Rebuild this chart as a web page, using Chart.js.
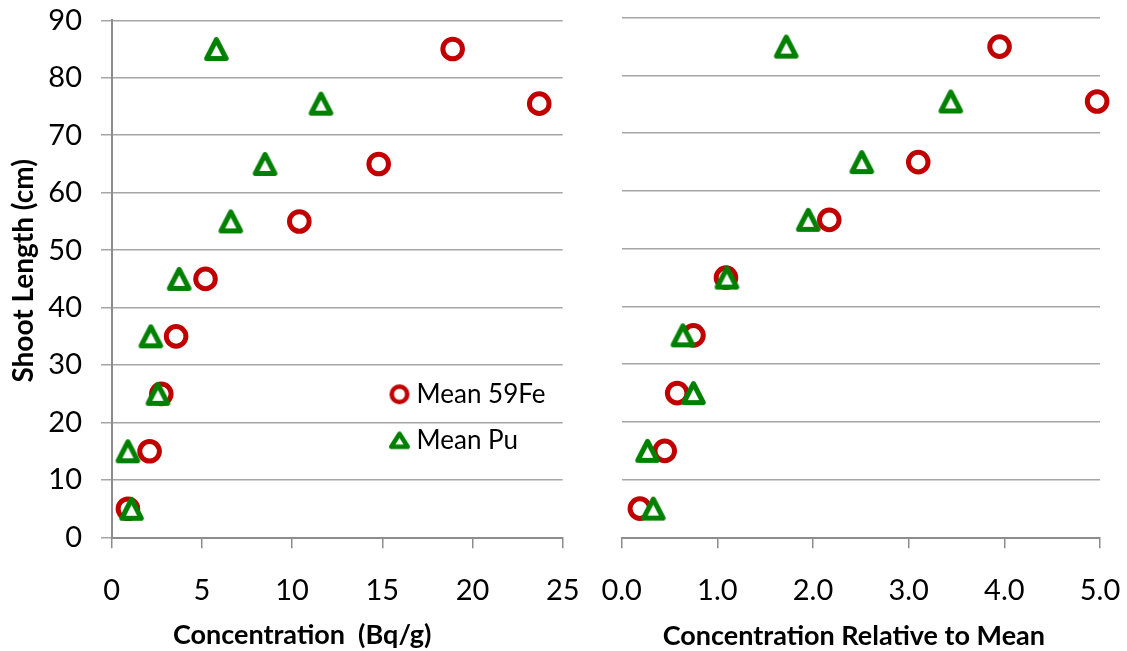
<!DOCTYPE html>
<html>
<head>
<meta charset="utf-8">
<script src="https://cdn.jsdelivr.net/npm/chart.js@4.4.1/dist/chart.umd.min.js"></script>
<style>
  html, body { margin: 0; padding: 0; background: #ffffff; }
  #wrap { position: relative; width: 1127px; height: 651px; overflow: hidden; background: #fff; }
  #left { position: absolute; left: 0; top: 0; }
  #right { position: absolute; left: 592px; top: 0; }
</style>
</head>
<body>
<div id="wrap">
  <canvas id="left" width="592" height="651"></canvas>
  <canvas id="right" width="535" height="651"></canvas>
</div>
<script>
// ---------- data ----------
const shootLength = [5, 15, 25, 35, 45, 55, 65, 75.5, 85];
const fe59Conc = [0.9, 2.1, 2.75, 3.57, 5.2, 10.4, 14.8, 23.7, 18.9];
const puConc   = [1.1, 0.9, 2.56, 2.17, 3.74, 6.6, 8.5, 11.6, 5.8];
const fe59Rel  = [0.19, 0.45, 0.58, 0.75, 1.09, 2.17, 3.1, 4.97, 3.95];
const puRel    = [0.33, 0.27, 0.75, 0.64, 1.1, 1.95, 2.51, 3.44, 1.72];

const yTicks = [0, 10, 20, 30, 40, 50, 60, 70, 80, 90];
const yTickLabels = ['0', '10', '20', '30', '40', '50', '60', '70', '80', '90'];
const leftXTicks = [0, 5, 10, 15, 20, 25];
const leftXTickLabels = ['0', '5', '10', '15', '20', '25'];
const rightXTicks = [0, 1, 2, 3, 4, 5];
const rightXTickLabels = ['0.0', '1.0', '2.0', '3.0', '4.0', '5.0'];

const seriesNames = ['Mean 59Fe', 'Mean Pu'];
const yTitle = 'Shoot Length (cm)';
const leftXTitle = 'Concentration  (Bq/g)';
const rightXTitle = 'Concentration Relative to Mean';

// ---------- styles ----------
const RED = '#C00000';
const GREEN = '#008000';
const GRID = '#a6a6a6';
const AXIS = '#8c8c8c';
const FONT = 'Lato, "Open Sans", "DejaVu Sans", sans-serif';

function makeTriangle(w, h, lw, color) {
  const pad = 2;
  const c = document.createElement('canvas');
  c.width = Math.round(w + pad * 2);
  c.height = Math.round(h + pad * 2);
  const g = c.getContext('2d');
  const cx = c.width / 2, cy = c.height / 2;
  const pw = (w - lw) / 2, ph = (h - lw) / 2;
  g.beginPath();
  g.moveTo(cx, cy - ph);
  g.lineTo(cx + pw, cy + ph);
  g.lineTo(cx - pw, cy + ph);
  g.closePath();
  g.lineJoin = 'round';
  g.lineWidth = lw;
  g.fillStyle = '#ffffff';
  g.strokeStyle = color;
  g.fill();
  g.stroke();
  return c;
}
function makeCircle(d, lw, color) {
  const pad = 2;
  const c = document.createElement('canvas');
  c.width = Math.round(d + pad * 2);
  c.height = Math.round(d + pad * 2);
  const g = c.getContext('2d');
  g.beginPath();
  g.arc(c.width / 2, c.height / 2, (d - lw) / 2, 0, Math.PI * 2);
  g.lineWidth = lw;
  g.fillStyle = '#ffffff';
  g.strokeStyle = color;
  g.fill();
  g.stroke();
  return c;
}

const axisTitlesPlugin = {
  id: 'axisTitles',
  afterDraw(chart, args, opts) {
    const ctx = chart.ctx, ca = chart.chartArea;
    (opts.items || []).forEach(t => {
      ctx.save();
      ctx.font = t.font;
      ctx.fillStyle = t.color;
      ctx.textAlign = 'center';
      ctx.textBaseline = 'middle';
      if (t.vertical) {
        ctx.translate(t.x, (ca.top + ca.bottom) / 2 + t.dy);
        ctx.rotate(-Math.PI / 2);
        ctx.fillText(t.text, 0, 0);
      } else {
        ctx.fillText(t.text, (ca.left + ca.right) / 2 + t.dx, t.y);
      }
      ctx.restore();
    });
  }
};

const legendPlacePlugin = {
  id: 'legendPlace',
  afterLayout(chart, args, opts) {
    const lg = chart.legend;
    if (!lg || !opts.enabled) return;
    const ca = chart.chartArea;
    lg.left = ca.left + opts.dx;
    lg.top = ca.top + opts.dy;
    lg.right = lg.left + 220;
    lg.bottom = lg.top + 130;
    lg.width = 220;
    lg.height = 130;
  }
};

function tickFont() { return { family: FONT, size: 29 }; }
function noPad(s) { s.paddingLeft = 0; s.paddingRight = 0; s.paddingTop = 0; s.paddingBottom = 0; }

function build() {
  const triPlot = makeTriangle(24.5, 24, 5, GREEN);
  const triLegend = makeTriangle(21, 17.5, 4.5, GREEN);
  const cirLegend = makeCircle(20, 4.5, RED);

  function datasets(feX, puX) {
    return [
      {
        label: seriesNames[0],
        data: shootLength.map((y, i) => ({ x: feX[i], y: y })),
        pointStyle: 'circle',
        pointRadius: 9.8,
        pointBorderWidth: 5,
        pointBackgroundColor: '#ffffff',
        pointBorderColor: RED,
        borderColor: RED,
        backgroundColor: '#ffffff',
        showLine: false,
        clip: false,
        order: 1
      },
      {
        label: seriesNames[1],
        data: shootLength.map((y, i) => ({ x: puX[i], y: y })),
        pointStyle: triPlot,
        pointRadius: 10,
        pointBorderWidth: 0,
        pointBorderColor: GREEN,
        borderColor: GREEN,
        backgroundColor: '#ffffff',
        showLine: false,
        clip: false,
        order: 0
      }
    ];
  }

  const common = {
    responsive: false,
    maintainAspectRatio: false,
    devicePixelRatio: 1,
    animation: false,
    events: []
  };

  // ---------- left chart ----------
  new Chart(document.getElementById('left'), {
    type: 'scatter',
    data: { datasets: datasets(fe59Conc, puConc) },
    plugins: [axisTitlesPlugin, legendPlacePlugin],
    options: Object.assign({}, common, {
      layout: { padding: { left: 0, top: 20.3, right: 29.3, bottom: 42.6 } },
      scales: {
        x: {
          type: 'linear', min: 0, max: 25,
          afterBuildTicks: s => { s.ticks = leftXTicks.map(v => ({ value: v })); },
          ticks: { font: tickFont(), color: '#000', padding: 25.4, maxRotation: 0, autoSkip: false,
                   callback: (v, i) => leftXTickLabels[i] },
          grid: { drawOnChartArea: false, drawTicks: true, tickLength: 10.7, tickColor: AXIS, lineWidth: 1.5 },
          border: { display: true, color: AXIS, width: 2 },
          afterFit: s => { s.height = 70.9; noPad(s); }
        },
        y: {
          type: 'linear', min: 0, max: 90,
          afterBuildTicks: s => { s.ticks = yTicks.map(v => ({ value: v })); },
          ticks: { font: tickFont(), color: '#000', padding: 19, autoSkip: false,
                   callback: (v, i) => yTickLabels[i] },
          grid: { color: GRID, lineWidth: 1.5, drawTicks: true, tickLength: 10.7, tickColor: GRID },
          border: { display: true, color: AXIS, width: 2 },
          afterFit: s => { s.width = 111.7; noPad(s); }
        }
      },
      plugins: {
        tooltip: { enabled: false },
        title: { display: false },
        legend: {
          display: true,
          position: 'chartArea',
          align: 'start',
          labels: {
            usePointStyle: true,
            boxWidth: 8,
            padding: 20,
            color: '#000',
            font: { family: FONT, size: 26 },
            generateLabels: () => [
              { text: seriesNames[0], pointStyle: cirLegend, fillStyle: '#fff', strokeStyle: RED, lineWidth: 0, hidden: false, datasetIndex: 0, fontColor: '#000' },
              { text: seriesNames[1], pointStyle: triLegend, fillStyle: '#fff', strokeStyle: GREEN, lineWidth: 0, hidden: false, datasetIndex: 1, fontColor: '#000' }
            ]
          }
        },
        legendPlace: { enabled: true, dx: 263.8, dy: 341 },
        axisTitles: {
          items: [
            { text: leftXTitle, font: 'bold 27px ' + FONT, color: '#000', dx: -35, y: 635.2 },
            { text: yTitle, font: 'bold 28px ' + FONT, color: '#000', vertical: true, x: 23.5, dy: -8 }
          ]
        }
      }
    })
  });

  // ---------- right chart ----------
  new Chart(document.getElementById('right'), {
    type: 'scatter',
    data: { datasets: datasets(fe59Rel, puRel) },
    plugins: [axisTitlesPlugin],
    options: Object.assign({}, common, {
      layout: { padding: { left: 29.7, top: 17.7, right: 27, bottom: 42.6 } },
      scales: {
        x: {
          type: 'linear', min: 0, max: 5,
          afterBuildTicks: s => { s.ticks = rightXTicks.map(v => ({ value: v })); },
          ticks: { font: tickFont(), color: '#000', padding: 25.4, maxRotation: 0, autoSkip: false,
                   callback: (v, i) => rightXTickLabels[i] },
          grid: { drawOnChartArea: false, drawTicks: true, tickLength: 10.7, tickColor: AXIS, lineWidth: 1.5 },
          border: { display: true, color: AXIS, width: 2 },
          afterFit: s => { s.height = 70.9; noPad(s); }
        },
        y: {
          type: 'linear', min: 0, max: 90,
          afterBuildTicks: s => { s.ticks = yTicks.map(v => ({ value: v })); },
          ticks: { display: false },
          grid: { color: GRID, lineWidth: 1.5, drawTicks: false },
          border: { display: false },
          afterFit: s => { s.width = 0; noPad(s); }
        }
      },
      plugins: {
        tooltip: { enabled: false },
        title: { display: false },
        legend: { display: false },
        axisTitles: {
          items: [
            { text: rightXTitle, font: 'bold 27px ' + FONT, color: '#000', dx: -7, y: 636.2 }
          ]
        }
      }
    })
  });
}

const fontLoads = ['29px Lato', '26px Lato', 'bold 27px Lato', 'bold 28px Lato']
  .map(f => document.fonts.load(f).catch(() => null));
Promise.all(fontLoads).then(build, build);
</script>
</body>
</html>
